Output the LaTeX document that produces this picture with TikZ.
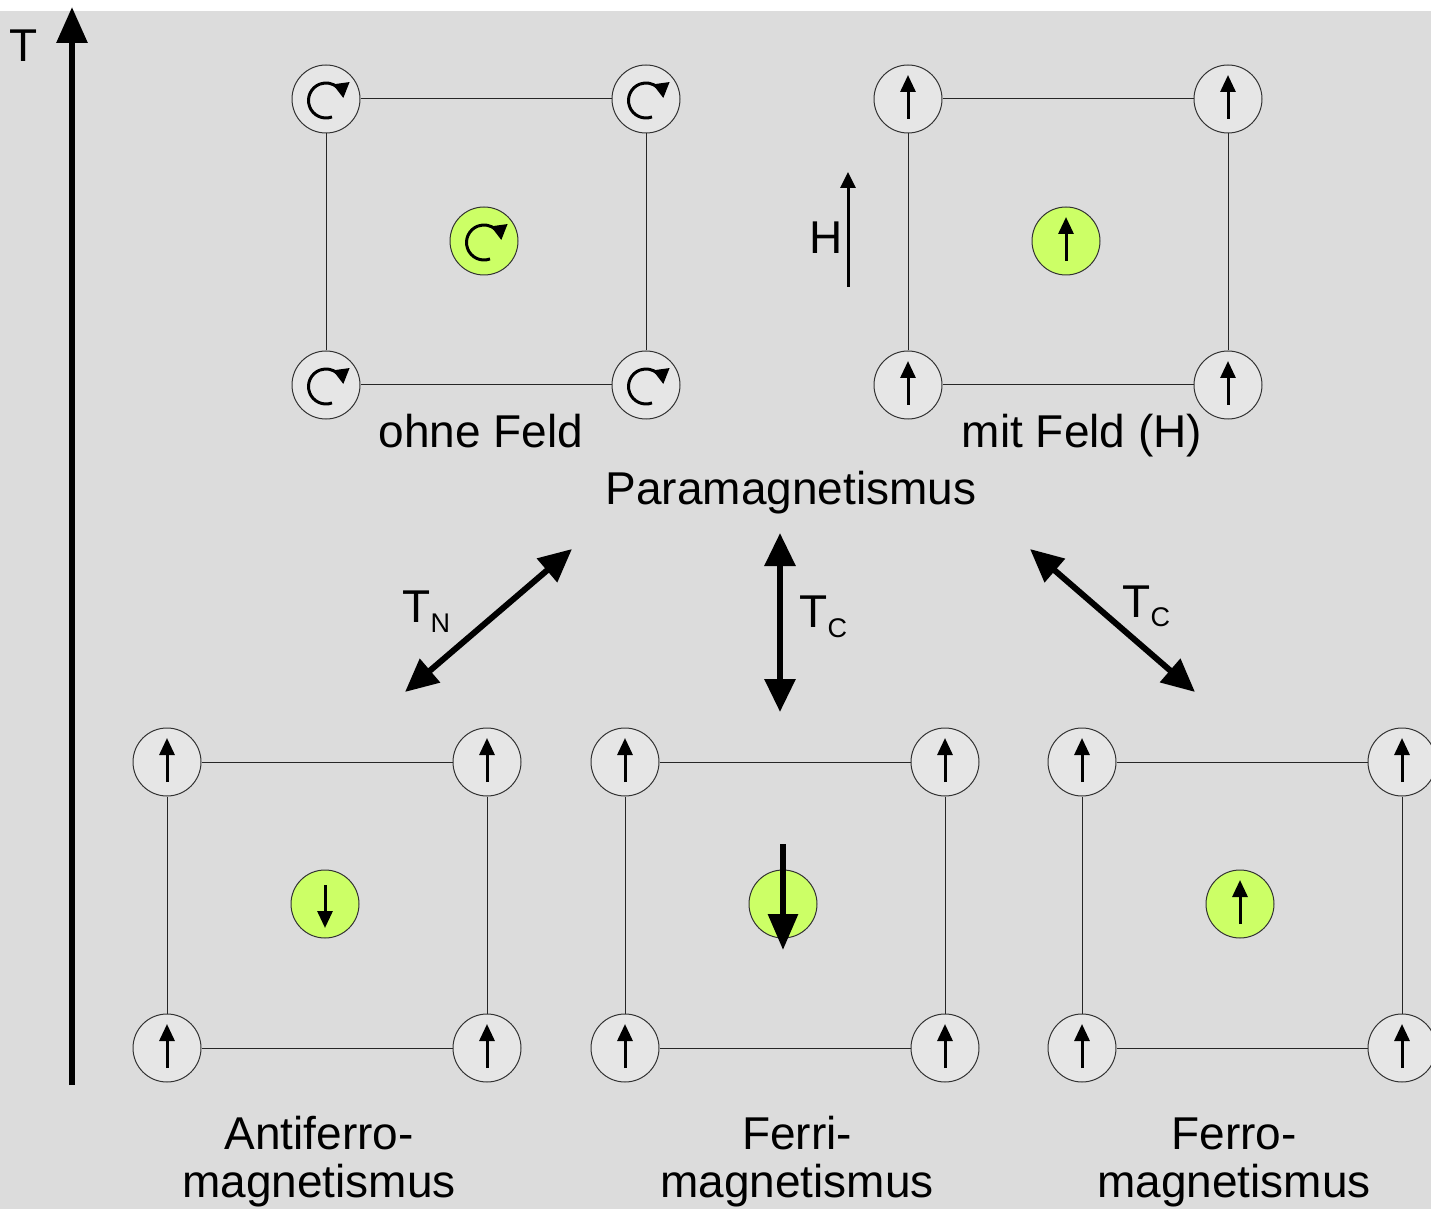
\documentclass[tikz,border=0pt]{standalone}
\usepackage{fontspec}
\setmainfont{Liberation Sans}
\usetikzlibrary{arrows.meta}

\definecolor{bggray}{HTML}{DCDCDC}
\definecolor{sitegray}{HTML}{E6E6E6}
\definecolor{sitegreen}{HTML}{CCFF66}

% label with lowered subscript, e.g. T_N
\newcommand\sublabel[2]{#1\raisebox{-5pt}{\fontsize{13.5}{14}\selectfont #2}}

\tikzset{
  site/.style={circle, draw=black!80, line width=0.5pt, fill=sitegray,
               minimum size=34pt, inner sep=0pt},
  centre/.style={site, fill=sitegreen},
  bond/.style={draw=black!85, line width=0.5pt},
  spin/.style={line width=1.5pt, -{Triangle[length=8.5pt,width=7.5pt]}},
  bigspin/.style={line width=3pt, -{Triangle[length=18pt,width=14.5pt]}},
  transition/.style={line width=3pt,
      {Triangle[length=16.5pt,width=15pt]}-{Triangle[length=16.5pt,width=15pt]}},
  lbl/.style={font=\fontsize{23}{27}\selectfont, inner sep=0pt},
  pics/up/.style={code={\draw[spin] (0,20) -- (0,-24);}},
  pics/down/.style={code={\draw[spin] (0,-19) -- (0,24);}},
  pics/rot/.style={code={\draw[line width=1.5pt,-{Triangle[length=7.5pt,width=8pt]}]
      (0,1.5) ++(70:17.5) arc[start angle=70,end angle=352,radius=17.5];}},
}

% one square cell: four corner sites, the bonds and a centre site
\newcommand\cell[4]{% prefix, x, y, corner pic
  \node[site] (#1a) at (#2,#3) {};
  \node[site] (#1b) at ({#2+320},#3) {};
  \node[site] (#1c) at (#2,{#3+286}) {};
  \node[site] (#1d) at ({#2+320},{#3+286}) {};
  \draw[bond] (#1a) -- (#1b) -- (#1d) -- (#1c) -- (#1a);
  \pic at (#1a) {#4}; \pic at (#1b) {#4};
  \pic at (#1c) {#4}; \pic at (#1d) {#4};
}

\begin{document}
\begin{tikzpicture}[x=0.5pt,y=-0.5pt]
\useasboundingbox (0,0) rectangle (1431,1209);
\fill[white] (0,0) rectangle (1431,1209);
\fill[bggray] (0,11) rectangle (1431,1209);

% temperature axis
\coordinate (tlow) at (72,1085);
\coordinate (thigh) at (72,7);
\draw[line width=3pt,-{Triangle[length=18pt,width=15pt]}] (tlow) -- (thigh);
\node[lbl, anchor=base] (tlabel) at (24,62) {T};

% paramagnet without field
\cell{p}{326}{99}{rot}
\node[centre] (pm) at (484,241) {};
\pic at (pm) {rot};
\node[lbl, anchor=base] (ohne) at (481,447) {ohne Feld};

% paramagnet with field
\cell{q}{908}{99}{up}
\node[centre] (qm) at (1066,241) {};
\pic at (qm) {up};
\node[lbl, anchor=base] (mit) at (1082,447) {mit Feld (H)};
\coordinate (hlow) at (848,287);
\coordinate (hhigh) at (848,172);
\draw[line width=1.5pt,-{Triangle[length=8pt,width=7.5pt]}] (hlow) -- (hhigh);
\node[lbl, anchor=base] (hlabel) at (826,254) {H};

\node[lbl, anchor=base] (para) at (791,504) {Paramagnetismus};

% transitions
\coordinate (tnA) at (405,692); \coordinate (tnB) at (572,549);
\draw[transition] (tnA) -- (tnB);
\node[lbl, anchor=base west] (tn) at (402,622) {\sublabel{T}{N}};

\coordinate (tcA) at (780,533); \coordinate (tcB) at (780,712);
\draw[transition] (tcA) -- (tcB);
\node[lbl, anchor=base west] (tc1) at (799,627) {\sublabel{T}{C}};

\coordinate (tfA) at (1030,549); \coordinate (tfB) at (1195,692);
\draw[transition] (tfA) -- (tfB);
\node[lbl, anchor=base west] (tc2) at (1122,617) {\sublabel{T}{C}};

% antiferromagnet
\cell{a}{167}{762}{up}
\node[centre] (am) at (325,904) {};
\pic at (am) {down};
\node[lbl, anchor=base] (afm) at (319,1149) {Antiferro-};
\node[lbl, anchor=base] (afm2) at (319,1197) {magnetismus};

% ferrimagnet
\cell{f}{625}{762}{up}
\node[centre] (fm) at (783,904) {};
\coordinate (fa) at (783,844); \coordinate (fb) at (783,950);
\draw[bigspin] (fa) -- (fb);
\node[lbl, anchor=base] (fim) at (797,1149) {Ferri-};
\node[lbl, anchor=base] (fim2) at (797,1197) {magnetismus};

% ferromagnet
\cell{r}{1082}{762}{up}
\node[centre] (rm) at (1240,904) {};
\pic at (rm) {up};
\node[lbl, anchor=base] (frm) at (1234,1149) {Ferro-};
\node[lbl, anchor=base] (frm2) at (1234,1197) {magnetismus};
\end{tikzpicture}
\end{document}
